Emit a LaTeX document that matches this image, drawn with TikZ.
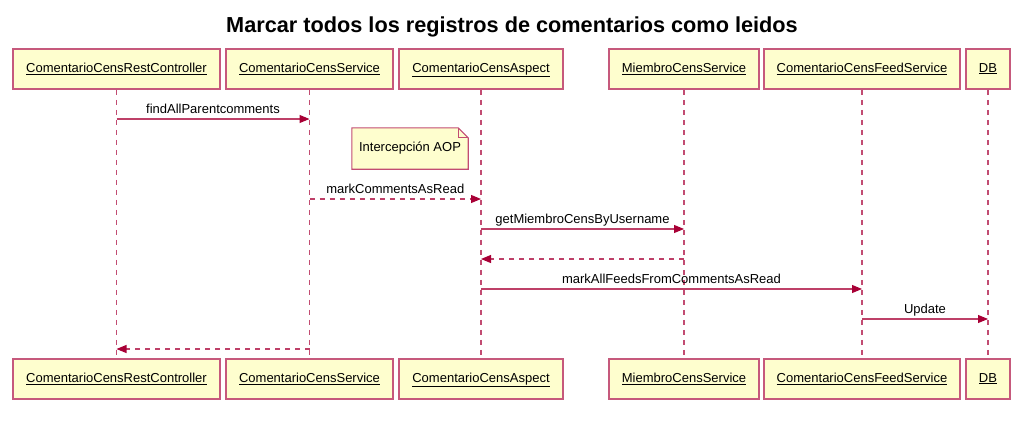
\documentclass[tikz,border=0pt]{standalone}
\usepackage{fontspec}
\setmainfont{Liberation Sans}
\usetikzlibrary{arrows.meta, positioning}
\definecolor{umlred}{HTML}{A80036}
\definecolor{umlfill}{HTML}{FEFECE}

\begin{document}
\begin{tikzpicture}[x=1pt, y=-1pt,
      part/.style={draw=umlred!65!white, line width=1.5pt, fill=umlfill, minimum height=40pt, inner sep=0pt, text height=9.5pt, text depth=3pt, font=\fontsize{13}{15}\selectfont},
      life/.style={draw=umlred!70!white, line width=1.1pt, dash pattern=on 5pt off 5pt},
      msg/.style={draw=umlred!75!white, line width=1.1pt, -{Triangle[length=10pt, width=8pt, color=umlred]}},
      ret/.style={msg, dash pattern=on 5pt off 5pt},
      lbl/.style={above=5pt, inner sep=0pt, text depth=0pt, font=\fontsize{13}{15}\selectfont},
      notebox/.style={minimum width=116pt, minimum height=41pt, inner sep=0pt, text height=9.5pt, text depth=3pt, font=\fontsize{13}{15}\selectfont},
      noteline/.style={draw=umlred!70!white, line width=1.1pt, fill=umlfill}
    ]
      \useasboundingbox (0,0) rectangle (1025,423);
      \node[anchor=base, font=\bfseries\fontsize{21.7}{26}\selectfont] (title) at (512,32) {Marcar todos los registros de comentarios como leidos};
      % participants, top row
      \node[part, minimum width=207pt] (ctrl)    at (116.5,69) {\underline{ComentarioCensRestController}};
      \node[part, minimum width=167pt] (svc)     at (309.5,69) {\underline{ComentarioCensService}};
      \node[part, minimum width=164pt] (aspect)  at (481,69)   {\underline{ComentarioCensAspect}};
      \node[part, minimum width=150pt] (miembro) at (684,69)   {\underline{MiembroCensService}};
      \node[part, minimum width=196pt] (feed)    at (862,69)   {\underline{ComentarioCensFeedService}};
      \node[part, minimum width=44pt]  (db)      at (988,69)   {\underline{DB}};
      % participants, bottom row
      \node[part, minimum width=207pt] (ctrlB)    at (116.5,379) {\underline{ComentarioCensRestController}};
      \node[part, minimum width=167pt] (svcB)     at (309.5,379) {\underline{ComentarioCensService}};
      \node[part, minimum width=164pt] (aspectB)  at (481,379)   {\underline{ComentarioCensAspect}};
      \node[part, minimum width=150pt] (miembroB) at (684,379)   {\underline{MiembroCensService}};
      \node[part, minimum width=196pt] (feedB)    at (862,379)   {\underline{ComentarioCensFeedService}};
      \node[part, minimum width=44pt]  (dbB)      at (988,379)   {\underline{DB}};
      % lifelines
      \draw[life] (ctrl) -- (ctrlB);
      \draw[life] (svc) -- (svcB);
      \draw[life] (aspect) -- (aspectB);
      \draw[life] (miembro) -- (miembroB);
      \draw[life] (feed) -- (feedB);
      \draw[life] (db) -- (dbB);
      % note
      \node[notebox] (aop) at (410,148.5) {};
      \draw[noteline] (aop.north west) -- ([xshift=-10pt]aop.north east) -- ([yshift=-10pt]aop.north east) -- (aop.south east) -- (aop.south west) -- cycle;
      \draw[noteline, fill=none] ([xshift=-10pt]aop.north east) |- ([yshift=-10pt]aop.north east);
      \node[notebox] at (aop) {Intercepción AOP};
      % messages
      \draw[msg] (ctrl |- 0,119) -- node[lbl] {findAllParentcomments} (svc |- 0,119);
      \draw[ret] (svc |- 0,199) -- node[lbl] {markCommentsAsRead} (aspect |- 0,199);
      \draw[msg] (aspect |- 0,229) -- node[lbl] {getMiembroCensByUsername} (miembro |- 0,229);
      \draw[ret] (miembro |- 0,259) -- (aspect |- 0,259);
      \draw[msg] (aspect |- 0,289) -- node[lbl] {markAllFeedsFromCommentsAsRead} (feed |- 0,289);
      \draw[msg] (feed |- 0,319) -- node[lbl] {Update} (db |- 0,319);
      \draw[ret] (svc |- 0,349) -- (ctrl |- 0,349);
    \end{tikzpicture}
\end{document}
